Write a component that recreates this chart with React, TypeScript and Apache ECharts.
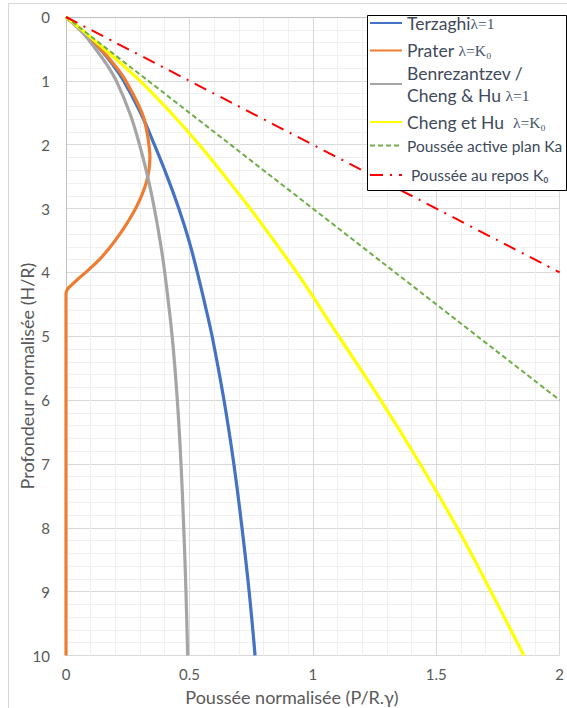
import React, { useEffect, useRef } from "react";
import * as echarts from "echarts";

// [P/R.γ, H/R] pairs
const terzaghi: number[][] = [
  [0, 0], [0.074, 0.25], [0.138, 0.5], [0.19, 0.75], [0.234, 1], [0.302, 1.5], [0.358, 2],
  [0.41, 2.5], [0.457, 3], [0.498, 3.5], [0.532, 4], [0.563, 4.5], [0.592, 5], [0.64, 6],
  [0.68, 7], [0.713, 8], [0.742, 9], [0.766, 10],
];
const prater: number[][] = [
  [0, 0], [0.075, 0.25], [0.14, 0.5], [0.196, 0.75], [0.242, 1], [0.308, 1.5], [0.328, 1.8],
  [0.336, 2], [0.34, 2.2], [0.336, 2.4], [0.325, 2.6], [0.306, 2.8], [0.282, 3], [0.252, 3.2],
  [0.218, 3.4], [0.18, 3.6], [0.135, 3.8], [0.08, 4], [0.05, 4.1], [0.022, 4.2], [0.007, 4.26],
  [0, 4.33], [0, 10],
];
const benrezantzev: number[][] = [
  [0, 0], [0.068, 0.25], [0.12, 0.5], [0.166, 0.75], [0.204, 1], [0.258, 1.5], [0.298, 2],
  [0.331, 2.5], [0.358, 3], [0.381, 3.5], [0.4, 4], [0.43, 5], [0.451, 6], [0.466, 7],
  [0.477, 8], [0.486, 9], [0.493, 10],
];
const chengHu: number[][] = [
  [0, 0], [0.08, 0.25], [0.155, 0.5], [0.3, 1], [0.425, 1.5], [0.54, 2], [0.645, 2.5],
  [0.746, 3], [0.842, 3.5], [0.935, 4], [1.021, 4.5], [1.105, 5], [1.275, 6], [1.435, 7],
  [1.585, 8], [1.722, 9], [1.855, 10],
];
const activeKa: number[][] = [[0, 0], [2, 6]];
const reposK0: number[][] = [[0, 0], [2, 4]];

const seriesNames = [
  "Terzaghi λ=1",
  "Prater λ=K0",
  "Benrezantzev / Cheng & Hu λ=1",
  "Cheng et Hu λ=K0",
  "Poussée active plan Ka",
  "Poussée au repos K0",
];
const legendLabels = [
  "{a|Terzaghi}{l|λ=1}",
  "{a|Prater }{l|λ=K₀}",
  "{a|Benrezantzev /}\n{a|Cheng & Hu }{l|λ=1}",
  "{a|Cheng et Hu  }{l|λ=K₀}",
  "{b|Poussée active plan Ka}",
  "{b| Poussée au repos K₀}",
];
const legendRowCenters = [25, 52.5, 86, 124, 148.5, 178];
const legendRowHeights = [22, 22, 44, 22, 22, 22];

const xAxisName = "Poussée normalisée (P/R.γ)";
const yAxisName = "Profondeur normalisée (H/R)";

export default function App() {
  const ref = useRef<HTMLDivElement>(null);
  useEffect(() => {
    if (!ref.current) return;
    const chart = echarts.init(ref.current, undefined, { renderer: "svg" });
    const font = "Lato, 'Open Sans', sans-serif";
    const mk = (name: string, data: number[][], color: string, width: number, type: any) => ({
      name,
      type: "line",
      data,
      symbol: "none",
      smooth: 0.4,
      lineStyle: { color, width, type },
      itemStyle: { color },
      z: 2,
    });
    const rich = {
      a: { fontSize: 17.5, color: "#404a5a", fontFamily: font, lineHeight: 22 },
      b: { fontSize: 15.5, color: "#404a5a", fontFamily: font, lineHeight: 22 },
      l: { fontSize: 15.5, color: "#44546a", fontFamily: "'Liberation Serif', serif", lineHeight: 22 },
    };
    const legends = seriesNames.map((name, i) => ({
      orient: "vertical",
      left: 369,
      top: legendRowCenters[i] - legendRowHeights[i] / 2,
      itemWidth: 32,
      itemHeight: 12,
      padding: 0,
      data: [name],
      selectedMode: false,
      itemStyle: { opacity: 0 },
      formatter: () => legendLabels[i],
      textStyle: { fontFamily: font, rich },
    }));
    chart.setOption({
      animation: false,
      textStyle: { fontFamily: font },
      grid: { left: 66, top: 17, right: 5, bottom: 52.5, containLabel: false },
      xAxis: {
        type: "value",
        min: 0,
        max: 2,
        interval: 0.5,
        axisLine: { show: true, lineStyle: { color: "#bfbfbf" } },
        axisTick: { show: false },
        axisLabel: { fontSize: 15, color: "#595959", margin: 11, fontFamily: font },
        splitLine: { show: true, lineStyle: { color: "#d9d9d9" } },
        minorTick: { show: false, splitNumber: 5 },
        minorSplitLine: { show: true, lineStyle: { color: "#f0f0f0" } },
      },
      yAxis: {
        type: "value",
        inverse: true,
        min: 0,
        max: 10,
        interval: 1,
        axisLine: { show: true, lineStyle: { color: "#bfbfbf" } },
        axisTick: { show: false },
        axisLabel: { fontSize: 15, color: "#595959", margin: 16, fontFamily: font },
        splitLine: { show: true, lineStyle: { color: "#d9d9d9" } },
        minorTick: { show: false, splitNumber: 5 },
        minorSplitLine: { show: true, lineStyle: { color: "#f0f0f0" } },
      },
      legend: legends,
      graphic: [
        {
          type: "rect",
          shape: { x: 8.5, y: 3.5, width: 570, height: 720 },
          style: { fill: "none", stroke: "#d9d9d9", lineWidth: 1 },
          silent: true,
          z: -10,
        },
        {
          type: "rect",
          shape: { x: 367.5, y: 15.5, width: 199, height: 175 },
          style: { fill: "#fff", stroke: "#000", lineWidth: 1 },
          silent: true,
          z: 3,
        },
        {
          type: "text",
          x: 292,
          y: 697,
          style: {
            text: xAxisName,
            fontSize: 18,
            fontFamily: font,
            fill: "#595959",
            align: "center",
            verticalAlign: "middle",
          },
          silent: true,
        },
        {
          type: "text",
          x: 27,
          y: 376,
          rotation: Math.PI / 2,
          style: {
            text: yAxisName,
            fontSize: 18,
            fontFamily: font,
            fill: "#595959",
            align: "center",
            verticalAlign: "middle",
          },
          silent: true,
        },
      ],
      series: [
        mk(seriesNames[0], terzaghi, "#4472C4", 3.2, "solid"),
        mk(seriesNames[1], prater, "#ED7D31", 3.2, "solid"),
        mk(seriesNames[2], benrezantzev, "#A5A5A5", 3.2, "solid"),
        mk(seriesNames[3], chengHu, "#FFFF00", 3.2, "solid"),
        mk(seriesNames[4], activeKa, "#70AD47", 2, [5, 3]),
        mk(seriesNames[5], reposK0, "#FF0000", 2, [13, 7, 2, 7]),
      ],
    });
    return () => chart.dispose();
  }, []);
  return (
    <div
      ref={ref}
      style={{ position: "fixed", left: 0, top: 0, width: 567, height: 708, background: "#fff" }}
    />
  );
}
